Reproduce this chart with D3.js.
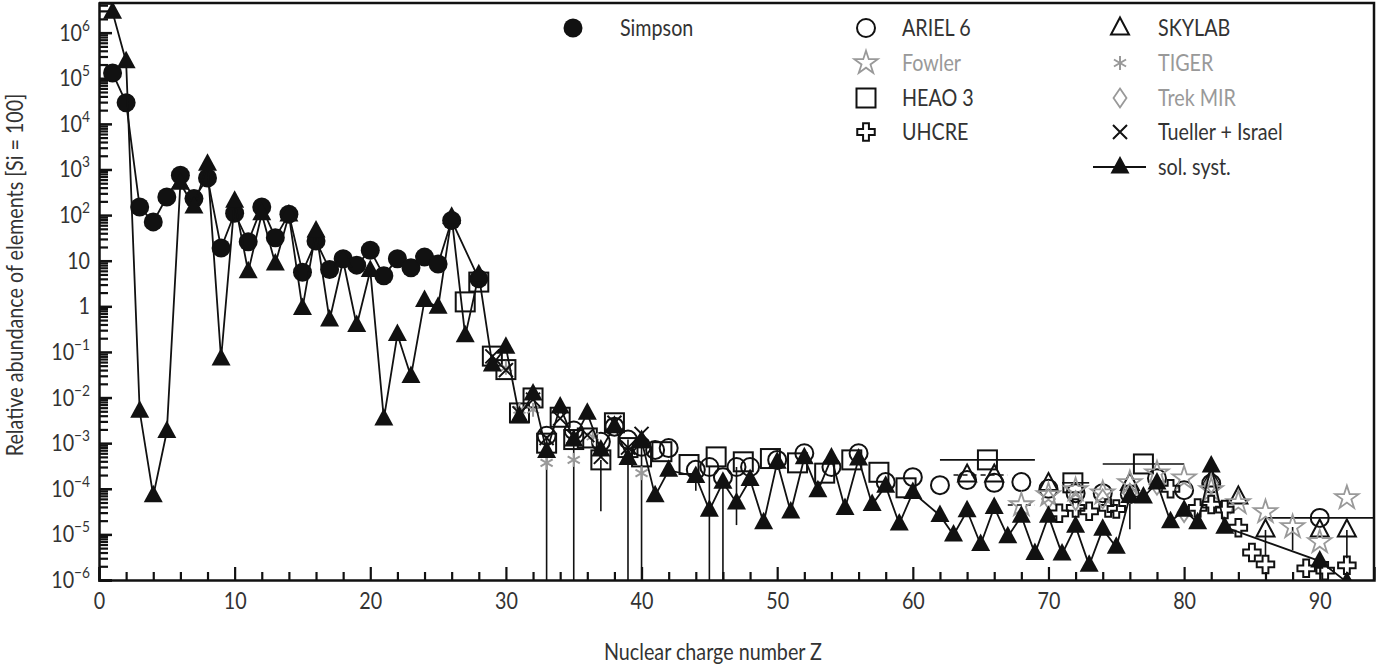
<!DOCTYPE html>
<html><head><meta charset="utf-8">
<script src="https://cdn.jsdelivr.net/npm/d3@7"></script>
<style>
html,body{margin:0;padding:0;background:#fff;}
svg text{font-family:"Lato","Open Sans","DejaVu Sans",sans-serif;}
</style></head>
<body><svg id="c" width="1379" height="667"></svg>
<script>
// ---------- data ----------
const simpsonZ = [1,2,3,4,5,6,7,8,9,10,11,12,13,14,15,16,17,18,19,20,21,22,23,24,25,26,28];
const simpsonV = [1.3e5,2.9e4,150,71,250,750,230,650,19,110,26,150,32,105,5.6,27,6.4,11,8,17,4.7,11,7,12,8.5,76,4.0];

const solZ = [1,2,3,4,5,6,7,8,9,10,11,12,13,14,15,16,17,18,19,20,21,22,23,24,25,26,27,28,29,30,31,32,33,34,35,36,37,38,39,40,41,42,44,45,46,47,48,49,50,51,52,53,54,55,56,57,58,59,60,62,63,64,65,66,67,68,69,70,71,72,73,74,75,76,77,78,79,80,81,82,83,90,92];
const solV = [2.8e6,2.3e5,5.0e-3,7.0e-5,1.8e-3,500,150,1300,0.07,200,5.7,107,8.5,100,0.9,45,0.5,10,0.38,6.1,3.4e-3,0.24,0.029,1.35,0.95,90,0.225,4.9,0.052,0.126,3.8e-3,0.0119,6.6e-4,6.2e-3,1.18e-3,4.5e-3,7.1e-4,2.35e-3,4.6e-4,1.14e-3,7.0e-5,2.55e-4,1.86e-4,3.4e-5,1.39e-4,4.9e-5,1.6e-4,1.8e-5,3.8e-4,3.1e-5,4.8e-4,9e-5,4.7e-4,3.7e-5,4.5e-4,4.5e-5,1.14e-4,1.7e-5,8.3e-5,2.6e-5,9.7e-6,3.3e-5,6e-6,3.9e-5,8.9e-6,2.5e-5,3.8e-6,2.5e-5,3.7e-6,1.5e-5,2.1e-6,1.3e-5,5.2e-6,6.8e-5,6.6e-5,1.34e-4,1.9e-5,3.4e-5,1.8e-5,3.15e-4,1.44e-5,2.6e-6,9e-7];

const heaoZ = [27,28,29,30,31,32,33,34,35,36,37,38,39,40,41.5,43.5,45.5,47.5,49.5,51.5,53.5,55.5,57.5,59.5,65.5,71.8,77];
const heaoV = [1.25,3.4,0.081,0.041,4.6e-3,9.8e-3,1.0e-3,3.7e-3,1.2e-3,1.3e-3,4.3e-4,2.8e-3,8e-4,5e-4,6.5e-4,3.4e-4,5e-4,3.9e-4,4.6e-4,3.7e-4,2.2e-4,4.3e-4,2.3e-4,1.05e-4,4.3e-4,1.35e-4,3.5e-4];

const arielZ = [33,35,37,38,39,40,41,42,44,45,46,47,48,50,52,54,56,58,60,62,64,66,68,70,72,74,76,78,80,82,90];
const arielV = [1.45e-3,1.9e-3,1.07e-3,2.3e-3,1.2e-3,8.3e-4,7.1e-4,7.8e-4,2.6e-4,3e-4,1.8e-4,3e-4,3e-4,4.3e-4,6e-4,3e-4,6e-4,1.4e-4,1.8e-4,1.2e-4,1.55e-4,1.35e-4,1.4e-4,1.0e-4,8e-5,8e-5,7.6e-5,1.7e-4,9.3e-5,1.3e-4,2.3e-5];

const skylabZ = [64,66,70,76,82,84,86,90,92];
const skylabV = [2.0e-4,2.0e-4,1.3e-4,1.3e-4,1.55e-4,6.6e-5,1.25e-5,1.25e-5,1.25e-5];

const fowlerZ = [68,70,72,74,76,78,80,82,84,86,88,90,92];
const fowlerV = [4.4e-5,7.3e-5,9.4e-5,8e-5,1.34e-4,2.2e-4,1.7e-4,9.4e-5,4.9e-5,3.1e-5,1.45e-5,6.8e-6,6.3e-5];

const tigerZ = [30,31,32,33,35,36.4,40];
const tigerV = [0.045,5.4e-3,5.4e-3,3.7e-4,4.3e-4,1.4e-3,2.2e-4];

const trekZ = [70,72,74,76,78,80,82];
const trekV = [6e-5,5.5e-5,6e-5,8e-5,1.2e-4,3e-5,1.3e-4];

const tuellerZ = [29,30,31,32,33,34,35,36,37,38,39,40];
const tuellerV = [0.08,0.04,4.5e-3,9e-3,1.3e-3,3.5e-3,1.4e-3,1.5e-3,5e-4,2.8e-3,8e-4,1.6e-3];

const uhcreZ = [70.8,72,73,74.4,75,79,81,82,83,84,85,86,89,90.4,92];
const uhcreV = [2.9e-5,3.8e-5,3.2e-5,3.8e-5,3.6e-5,1.0e-4,3.8e-5,4.5e-5,3.5e-5,1.4e-5,4e-6,2.2e-6,1.8e-6,1.6e-6,2.1e-6];

// vertical error bars [Z, upper, lower]
const vbarZ = [33,35,37,39,40,44,45,46,47,76,86,88,92];
const vbarHi = [1.45e-3,1.9e-3,4.3e-4,1.2e-3,8e-4,2.6e-4,3e-4,2.2e-4,3e-4,1.3e-4,1.25e-5,1.45e-5,1.25e-5];
const vbarLo = [1e-8,1e-8,3.2e-5,1e-8,1e-8,9e-5,1e-8,1e-8,1.6e-5,1.3e-5,3.5e-6,4.5e-6,3e-6];
// horizontal charge-range bars
const hbarFrom = [62,71,74,86];
const hbarTo = [69,73,80,94];
const hbarV = [4.3e-4,1.35e-4,3.5e-4,2.3e-5];
// dashed short bars
const dbarFrom = [63,65,67];
const dbarTo = [65,67,69];
const dbarV = [2.0e-4,2.0e-4,4.4e-5];

const xMajor = [0,10,20,30,40,50,60,70,80,90];
const yExp = [-6,-5,-4,-3,-2,-1,0,1,2,3,4,5,6];

// ---------- layout ----------
const svg = d3.select("#c");
const L = 99, R = 1374, T = 3, B = 580;
const x = d3.scaleLinear().domain([0,94]).range([L,R]);
const y = d3.scaleLog().domain([1e-6, Math.pow(10,6.65)]).range([B,T]);
const INK = "#111", GRAY = "#999", TXT = "#333";
const FS = 23;

svg.append("defs").append("clipPath").attr("id","clip")
  .append("rect").attr("x",L).attr("y",T).attr("width",R-L).attr("height",B-T);

function marker(g, type, cx, cy){
  const s = g.append("g").attr("transform",`translate(${cx},${cy})`);
  switch(type){
    case "fcircle": s.append("circle").attr("r",9.5).attr("fill",INK); break;
    case "ftri": s.append("path").attr("d","M0,-11L9.5,6.5L-9.5,6.5Z").attr("fill",INK); break;
    case "ocircle": s.append("circle").attr("r",9).attr("fill","none").attr("stroke",INK).attr("stroke-width",2); break;
    case "otri": s.append("path").attr("d","M0,-10.5L9,6.5L-9,6.5Z").attr("fill","none").attr("stroke",INK).attr("stroke-width",2); break;
    case "square": s.append("rect").attr("x",-9.5).attr("y",-9.5).attr("width",19).attr("height",19).attr("fill","none").attr("stroke",INK).attr("stroke-width",2); break;
    case "star": s.append("path").attr("d",d3.symbol(d3.symbolStar,170)()).attr("fill","none").attr("stroke",GRAY).attr("stroke-width",1.8); break;
    case "asterisk":
      [0,60,120].forEach(a=>s.append("line").attr("x1",0).attr("y1",-7).attr("x2",0).attr("y2",7)
        .attr("transform",`rotate(${a})`).attr("stroke",GRAY).attr("stroke-width",2));
      break;
    case "diamond": s.append("path").attr("d","M0,-9.5L6.5,0L0,9.5L-6.5,0Z").attr("fill","none").attr("stroke",GRAY).attr("stroke-width",1.8); break;
    case "xmark": s.append("path").attr("d","M-7,-7L7,7M-7,7L7,-7").attr("stroke",INK).attr("stroke-width",2); break;
    case "plus": s.append("path").attr("d",d3.symbol(d3.symbolCross,170)()).attr("fill","none").attr("stroke",INK).attr("stroke-width",2); break;
  }
}

svg.append("path").attr("d",`M${L},${T}H${R}V${B}`).attr("fill","none").attr("stroke",INK).attr("stroke-width",2.5);

// x axis
const xMinor = d3.range(2,94,2).filter(v=>v%10!==0);
const gx = svg.append("g").attr("transform",`translate(0,${B})`)
  .call(d3.axisBottom(x).tickValues(xMajor).tickSize(-13).tickPadding(23).tickFormat(d3.format("d")));
gx.select(".domain").attr("stroke",INK).attr("stroke-width",2.5);
gx.selectAll(".tick line").attr("stroke",INK).attr("stroke-width",2.2);
gx.selectAll(".tick text").attr("font-size",FS).attr("fill",TXT).attr("dy","0.25em").attr("class","simple");
const gxm = svg.append("g").attr("transform",`translate(0,${B})`).call(d3.axisBottom(x).tickValues(xMinor).tickSize(-8).tickFormat(""));
gxm.select(".domain").remove();
gxm.selectAll(".tick line").attr("stroke",INK).attr("stroke-width",2.2);

// y axis
const yMinor = [];
for(let e=-6;e<=6;e++) for(let m=2;m<=9;m++){ const v=m*Math.pow(10,e); if(v<=y.domain()[1]) yMinor.push(v); }
const gy = svg.append("g").attr("transform",`translate(${L},0)`)
  .call(d3.axisLeft(y).tickValues(yExp.map(e=>Math.pow(10,e))).tickSize(-13).tickFormat(""));
gy.select(".domain").attr("stroke",INK).attr("stroke-width",2.5);
gy.selectAll(".tick line").attr("stroke",INK).attr("stroke-width",2.5);
const gym = svg.append("g").attr("transform",`translate(${L},0)`)
  .call(d3.axisLeft(y).tickValues(yMinor).tickSize(-9).tickFormat(""));
gym.select(".domain").remove();
gym.selectAll(".tick line").attr("stroke",INK).attr("stroke-width",2.2);

// axis titles
const xTitle = svg.append("text").attr("x",713).attr("y",660).attr("text-anchor","middle").attr("font-size",FS).attr("fill",TXT)
  .attr("class","simple").text("Nuclear charge number Z");
svg.append("text").attr("transform","translate(23,275) rotate(-90)").attr("text-anchor","middle").attr("font-size",FS).attr("fill",TXT)
  .attr("class","simple").text("Relative abundance of elements [Si = 100]");

const ratio = 218 / xTitle.node().getComputedTextLength();

yExp.forEach(e=>{
  const t = svg.append("text").attr("transform",`translate(90,${y(Math.pow(10,e))+8}) scale(${ratio},1)`)
    .attr("text-anchor","end").attr("font-size",FS).attr("fill",TXT);
  if(e===0) t.text("1");
  else if(e===1) t.text("10");
  else { t.append("tspan").text("10"); t.append("tspan").attr("font-size",16).attr("dy",-10).text(e<0?"\u2212"+(-e):String(e)); }
});

// ---------- data layer ----------
const g = svg.append("g").attr("clip-path","url(#clip)");
const lineGen = d3.line().x(d=>x(d[0])).y(d=>y(d[1]));

vbarZ.forEach((z,i)=>g.append("line").attr("x1",x(z)).attr("x2",x(z))
  .attr("y1",y(vbarHi[i])).attr("y2",Math.min(y(vbarLo[i]),B+20)).attr("stroke",INK).attr("stroke-width",1.6));
hbarFrom.forEach((z,i)=>g.append("line").attr("x1",x(z)).attr("x2",x(hbarTo[i]))
  .attr("y1",y(hbarV[i])).attr("y2",y(hbarV[i])).attr("stroke",INK).attr("stroke-width",1.6));
dbarFrom.forEach((z,i)=>g.append("line").attr("x1",x(z)).attr("x2",x(dbarTo[i]))
  .attr("y1",y(dbarV[i])).attr("y2",y(dbarV[i])).attr("stroke",INK).attr("stroke-width",1.6).attr("stroke-dasharray","5,4"));

const series = [
  [heaoZ,heaoV,"square"],[arielZ,arielV,"ocircle"],[skylabZ,skylabV,"otri"],
  [fowlerZ,fowlerV,"star"],[uhcreZ,uhcreV,"plus"],[tigerZ,tigerV,"asterisk"],
  [trekZ,trekV,"diamond"],[tuellerZ,tuellerV,"xmark"]
];
series.forEach(([zs,vs,t])=>zs.forEach((z,i)=>marker(g,t,x(z),y(vs[i]))));

const simp = simpsonZ.map((z,i)=>[z,simpsonV[i]]);
g.append("path").attr("d",lineGen(simp)).attr("fill","none").attr("stroke",INK).attr("stroke-width",1.8);
simp.forEach(d=>marker(g,"fcircle",x(d[0]),y(d[1])));
const sol = solZ.map((z,i)=>[z,solV[i]]);
g.append("path").attr("d",lineGen(sol)).attr("fill","none").attr("stroke",INK).attr("stroke-width",1.8);
sol.forEach(d=>marker(g,"ftri",x(d[0]),y(d[1])));

// ---------- legend ----------
const legendItems = [
  ["Simpson","fcircle",573,28,INK],
  ["ARIEL 6","ocircle",866,28,INK],["Fowler","star",866,63,GRAY],["HEAO 3","square",866,98,INK],["UHCRE","plus",866,132,INK],
  ["SKYLAB","otri",1120,28,INK],["TIGER","asterisk",1120,63,GRAY],["Trek MIR","diamond",1120,98,GRAY],["Tueller + Israel","xmark",1120,132,INK],
  ["sol. syst.","ftri",1120,167,INK]
];
const lg = svg.append("g");
legendItems.forEach(([lab,t,mx,my,col])=>{
  if(lab==="sol. syst.") lg.append("line").attr("x1",1093).attr("x2",1146).attr("y1",my).attr("y2",my).attr("stroke",INK).attr("stroke-width",2);
  marker(lg,t,mx,my);
  lg.append("text").attr("x", lab==="Simpson"?620:(mx<1000?902:1158)).attr("y",my+8).attr("font-size",FS)
    .attr("fill",col===GRAY?"#999":TXT).attr("class","simple").text(lab);
});

svg.selectAll("text.simple").each(function(){
  const w = this.getComputedTextLength();
  d3.select(this).attr("textLength", w*ratio).attr("lengthAdjust","spacingAndGlyphs");
});
</script></body></html>
